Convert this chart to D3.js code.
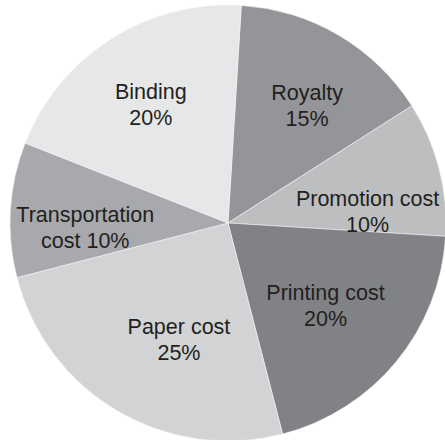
<!DOCTYPE html>
<html>
<head>
<meta charset="utf-8">
<script src="https://cdn.jsdelivr.net/npm/d3@7"></script>
<style>
  body { margin: 0; background: #fff; }
  text { font-family: "Liberation Sans", Arial, Helvetica, sans-serif; }
</style>
</head>
<body>
<div id="chart"></div>
<script>
// Data (clockwise from the top)
const categories = ["Royalty", "Promotion cost", "Printing cost", "Paper cost", "Transportation cost", "Binding"];
const shares = [15, 10, 20, 25, 10, 20];

// Gray fills, one per slice
const fills = ["#939598", "#bcbec0", "#808285", "#d1d3d4", "#a7a9ac", "#e6e7e8"];

// Small label nudges so text sits where the original puts it
const labelNudge = {
  "Royalty": [9, 2],
  "Promotion cost": [6, 24],
  "Printing cost": [-9, -5],
  "Paper cost": [21, -2],
  "Transportation cost": [-5, 13],
  "Binding": [-3, -2]
};

const width = 445;
const height = 440;
const cx = 228, cy = 223;
const radius = 218;
const labelRadius = 138;
const startAngle = 3.5 * Math.PI / 180;

const data = categories.map((name, i) => ({name: name, value: shares[i], fill: fills[i]}));

const svg = d3.select("#chart").append("svg")
  .attr("width", width)
  .attr("height", height);

const g = svg.append("g")
  .attr("transform", `translate(${cx},${cy})`);

const pie = d3.pie()
  .sort(null)
  .value(d => d.value)
  .startAngle(startAngle)
  .endAngle(startAngle + 2 * Math.PI);

const arc = d3.arc().innerRadius(0).outerRadius(radius);
const labelArc = d3.arc().innerRadius(labelRadius).outerRadius(labelRadius);

const arcs = pie(data);

g.selectAll("path.slice")
  .data(arcs)
  .enter().append("path")
    .attr("class", "slice")
    .attr("d", arc)
    .attr("fill", d => d.data.fill)
    .attr("stroke", "#f4f4f4")
    .attr("stroke-width", 0.6);

function labelLines(d) {
  const pct = d.data.value + "%";
  if (d.data.name === "Transportation cost") return ["Transportation", "cost " + pct];
  return [d.data.name, pct];
}

const labels = g.selectAll("text.label")
  .data(arcs)
  .enter().append("text")
    .attr("class", "label")
    .attr("text-anchor", "middle")
    .attr("font-size", 21.5)
    .attr("fill", "#231f20")
    .attr("transform", d => {
      const c = labelArc.centroid(d);
      const n = labelNudge[d.data.name] || [0, 0];
      return `translate(${c[0] + n[0]},${c[1] + n[1]})`;
    });

labels.selectAll("tspan")
  .data(d => labelLines(d))
  .enter().append("tspan")
    .attr("x", 0)
    .attr("y", (t, i) => i === 0 ? -6 : 20)
    .text(t => t);
</script>
</body>
</html>
